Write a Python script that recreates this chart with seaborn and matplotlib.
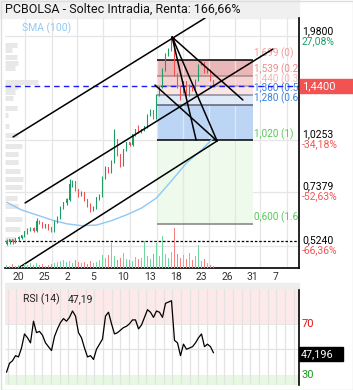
import matplotlib
matplotlib.use("Agg")
import matplotlib.pyplot as plt
from matplotlib.patches import Rectangle
import numpy as np
import seaborn as sns

# velas (indice de sesion intradia)
open_ = [0.530, 0.535, 0.542, 0.535, 0.545, 0.550, 0.555, 0.570, 0.579, 0.582,
         0.575, 0.610, 0.604, 0.590, 0.597, 0.586, 0.575, 0.610, 0.625, 0.665,
         0.685, 0.700, 0.770, 0.785, 0.746, 0.722, 0.731, 0.700, 0.678, 0.657,
         0.665, 0.709, 0.718, 0.805, 0.857, 0.835, 0.890, 1.023, 0.930, 0.873,
         0.960, 1.004, 0.991, 1.056, 1.090, 1.076, 1.090, 1.111, 1.198, 1.237,
         1.176, 1.360, 1.427, 1.594, 1.753, 1.809, 1.950, 1.544, 1.427, 1.387,
         1.478, 1.360, 1.449, 1.404, 1.496, 1.645, 1.675, 1.575, 1.594, 1.496]
high = [0.545, 0.548, 0.545, 0.550, 0.556, 0.562, 0.575, 0.585, 0.590, 0.588,
        0.625, 0.615, 0.606, 0.602, 0.600, 0.590, 0.615, 0.632, 0.672, 0.692,
        0.710, 0.800, 0.795, 0.790, 0.750, 0.740, 0.735, 0.705, 0.685, 0.672,
        0.715, 0.725, 0.815, 0.870, 0.860, 0.900, 1.095, 1.030, 0.935, 0.965,
        1.010, 1.010, 1.060, 1.100, 1.125, 1.095, 1.120, 1.210, 1.245, 1.240,
        1.370, 1.440, 1.610, 1.770, 1.830, 1.965, 1.940, 1.560, 1.440, 1.490,
        1.485, 1.460, 1.455, 1.510, 1.660, 1.700, 1.680, 1.610, 1.600, 1.500]
low = [0.525, 0.530, 0.530, 0.532, 0.540, 0.548, 0.552, 0.566, 0.574, 0.570,
       0.572, 0.600, 0.585, 0.585, 0.580, 0.570, 0.572, 0.606, 0.620, 0.660,
       0.680, 0.695, 0.760, 0.740, 0.715, 0.718, 0.695, 0.670, 0.650, 0.652,
       0.660, 0.700, 0.712, 0.800, 0.830, 0.830, 0.885, 0.925, 0.865, 0.870,
       0.955, 0.985, 0.985, 1.050, 1.070, 1.070, 1.085, 1.105, 1.190, 1.170,
       1.170, 1.350, 1.420, 1.585, 1.745, 1.800, 1.530, 1.420, 1.320, 1.380,
       1.350, 1.355, 1.395, 1.400, 1.490, 1.640, 1.565, 1.565, 1.490, 1.430]
close = [0.535, 0.542, 0.535, 0.545, 0.550, 0.555, 0.570, 0.579, 0.582, 0.575,
         0.610, 0.604, 0.590, 0.597, 0.586, 0.575, 0.610, 0.625, 0.665, 0.685,
         0.700, 0.770, 0.785, 0.746, 0.722, 0.731, 0.700, 0.678, 0.657, 0.665,
         0.709, 0.718, 0.805, 0.857, 0.835, 0.890, 1.023, 0.930, 0.873, 0.960,
         1.004, 0.991, 1.056, 1.090, 1.076, 1.090, 1.111, 1.198, 1.237, 1.176,
         1.360, 1.427, 1.594, 1.753, 1.809, 1.950, 1.544, 1.427, 1.387, 1.478,
         1.360, 1.449, 1.404, 1.496, 1.645, 1.675, 1.575, 1.594, 1.496, 1.440]
vol_k = [3, 2, 4, 2, 3, 2, 4, 3, 5, 3, 5, 3, 4, 2, 3, 4, 5, 6, 7, 8,
         6, 7, 5, 8, 6, 5, 6, 4, 7, 5, 6, 8, 13, 10, 13, 25, 12, 8, 10, 15,
         9, 8, 7, 11, 9, 10, 27, 12, 9, 14, 25, 12, 32, 14, 10, 16, 40, 14, 10, 13,
         9, 15, 8, 12, 23, 7, 9, 5, 3, 2]
rsi = [32, 39, 41, 45, 44, 51, 62, 59, 55, 72, 63, 64, 61, 55, 52, 49, 60, 66, 71, 74,
       72, 75, 80, 76, 63, 59, 51, 44, 45, 42, 50, 54, 58, 76, 79, 70, 62, 63, 65, 67,
       68, 70, 73, 73, 66, 69, 75, 81, 79, 75, 80, 79, 75, 86, 87, 88, 57, 55, 45, 54,
       50, 51, 52, 55, 59, 62, 52, 54, 52, 47.2]
rsi_last = '47,196'
sma_idx = [0, 5, 10, 15, 20, 25, 30, 35, 40, 45, 50, 55, 60, 65, 69]
sma_val = [0.690, 0.657, 0.637, 0.617, 0.602, 0.595, 0.597, 0.614, 0.637, 0.665,
           0.709, 0.790, 0.885, 0.960, 1.037]

# perfil de volumen a la izquierda
vp_price = [1.867, 1.809, 1.735, 1.67, 1.61, 1.477, 1.431, 1.387, 1.334, 1.253, 1.198, 1.118,
            1.056, 0.985, 0.937, 0.890, 0.843, 0.80, 0.760, 0.709, 0.672, 0.619, 0.581, 0.548]
vp_vol = [12, 7, 12, 13, 10, 33, 13, 10, 8, 12, 3, 4, 13, 17, 13, 13, 15, 18, 17, 12, 13, 17, 15, 10]

# fibonacci
fib_lvl = [1.699, 1.539, 1.440, 1.360, 1.280, 1.020, 0.600]
fib_txt = ['1,699 (0)', '1,539 (0.236)', '1,440 (0.382)', '1,360 (0.5)', '1,280 (0.618)',
           '1,020 (1)', '0,600 (1.618)']
fib_x = [50.2, 82.2]

# lineas de tendencia: (x0, p0, x1, p1)
trend = [(2.2, 1.043, 66.2, 2.215),
         (6.2, 0.687, 88.8, 1.820),
         (4.5, 0.458, 70.2, 1.017),
         (55.2, 1.964, 70.2, 1.017),
         (55.2, 1.964, 78.8, 1.318),
         (55.2, 1.964, 63.2, 1.023),
         (49.5, 1.449, 70.2, 1.017)]

grid_lvl = [1.98, 1.0253, 0.7379, 0.524]
grid_pct = ['27,08%', '-34,18%', '-52,63%', '-66,36%']
last_price = 1.44
buy_price = 0.54

date_lbl = ['20', '25', '2', '5', '10', '13', '18', '23', '26', '31', '7']
date_pos = [3.8, 12.5, 20.2, 28.8, 38.8, 47.8, 56.5, 64.8, 73.5, 81.8, 89.8]
vgrid_pos = [6.2, 15.2, 23.5, 32.2, 41.2, 50.2, 58.8, 67.5, 76.2, 84.5, 93.5]

sns.set_theme(style='white')
plt.rcParams['font.family'] = ['Roboto', 'DejaVu Sans']

W, H = 353, 390
fig = plt.figure(figsize=(W / 100, H / 100), dpi=100)


def frame(x0, y0, x1, y1):
    return [x0 / W, 1 - y1 / H, (x1 - x0) / W, (y1 - y0) / H]


# fondos
fig.patches.append(Rectangle((0, 1 - 18 / H), 299 / W, 18 / H, transform=fig.transFigure,
                             color='#f0f0f0', zorder=0))
fig.patches.append(Rectangle((5 / W, 1 - 288 / H), 294 / W, 5 / H, transform=fig.transFigure,
                             color='#eeeeee', zorder=0))
fig.patches.append(Rectangle((0.5 / W, 0.5 / H), 352 / W, 389 / H, transform=fig.transFigure,
                             fill=False, edgecolor='#dddddd', lw=1, zorder=0))

ax_vp = fig.add_axes(frame(5, 18, 299, 268))
ax = fig.add_axes(frame(5, 18, 299, 268), sharey=ax_vp)
ax_r = fig.add_axes(frame(5, 288, 299, 385))

ax_vp.set_zorder(1)
ax.set_zorder(2)
ax.patch.set_visible(False)

ax.set_yscale('log')
ax.set_ylim(0.455, 2.215)
ax.set_xlim(-0.5, 97.5)

# perfil de volumen
ax_vp.hlines(vp_price, 0, vp_vol, color='#e8e8e8', lw=3.6)
ax_vp.set_xlim(0, 294)
ax_vp.axis('off')

# rejilla
for g in grid_lvl:
    ax.axhline(g, color='#e6e6e6', lw=0.9, zorder=0)
ax.set_xticks(vgrid_pos, minor=True)
ax.set_xticks(date_pos)
ax.set_xticklabels(date_lbl, fontsize=7.5, color='#333333')
ax.tick_params(axis='x', which='both', length=0, pad=3)
ax.grid(True, axis='x', which='minor', color='#e6e6e6', lw=0.9)
ax.grid(False, axis='x', which='major')
ax.set_yticks([])
ax.yaxis.set_minor_locator(matplotlib.ticker.NullLocator())

# zonas fibonacci
fib_fill = ['#e9b7b7', '#f6d3d3', '#fbe6e6', '#dfeaf8', '#bcd5f5', '#eefaeb']
for k, c in enumerate(fib_fill):
    ax.fill_between(fib_x, fib_lvl[k + 1], fib_lvl[k], color=c, lw=0, zorder=0.5)
fib_line = ['black', '#a88a8a', '#b0a0a0', '#8a8a9a', '#606070', 'black', '#808080']
fib_col = ['#f29a9a', '#f08a8a', '#f4b4b4', '#3a7fe0', '#3a7fe0', '#55c855', '#55c855']
for lvl, lc, tc, t in zip(fib_lvl, fib_line, fib_col, fib_txt):
    ax.hlines(lvl, fib_x[0], fib_x[1], color=lc, lw=1.1, zorder=1)
    ax.text(fib_x[1] + 0.4, lvl * 1.006, t, color=tc, fontsize=7.2, va='bottom', ha='left',
            clip_on=True, zorder=1)

# lineas horizontales
ax.axhline(last_price, color='#1a1aff', lw=1, ls=(0, (4, 3)), zorder=1.5)
ax.axhline(buy_price, color='black', lw=0.9, ls=(0, (2, 1.5)), zorder=1.5)

# sma
sns.lineplot(x=sma_idx, y=sma_val, ax=ax, color='#8ec8f5', lw=1, zorder=2)

# velas
idx = np.arange(len(close))
o = np.array(open_)
c = np.array(close)
up = c >= o
col = np.where(up, '#1f9d68', '#f05050')
ax.vlines(idx, low, high, colors=col, lw=0.8, zorder=3)
ax.bar(idx, np.abs(c - o) + 0.004, bottom=np.minimum(o, c), width=0.65, color=col,
       linewidth=0, edgecolor='none', zorder=3)

# tendencias
for x0, p0, x1, p1 in trend:
    ax.plot([x0, x1], [p0, p1], color='black', lw=1.1, zorder=4)

# volumen
ax_v = ax.twinx()
ax_v.set_zorder(3)
ax_v.patch.set_visible(False)
ax_v.bar(idx, vol_k, width=0.45, color=np.where(up, '#72d8a2', '#f48080'),
         linewidth=0, edgecolor='none', zorder=1)
ax_v.set_ylim(0, 250)
ax_v.axis('off')

for s in ['left', 'top']:
    ax.spines[s].set_visible(False)
ax.spines['right'].set_color('black')
ax.spines['bottom'].set_color('black')
ax.spines['right'].set_linewidth(1.2)
ax.spines['bottom'].set_linewidth(1.2)

# etiquetas eje derecho
ytr = ax.get_yaxis_transform()
for g, p in zip(grid_lvl, grid_pct):
    ax.text(1.01, g, f'{g:.4f}'.replace('.', ','), transform=ytr, va='bottom', ha='left',
            fontsize=7.5, color='black', clip_on=False)
    ax.text(1.01, g, p, transform=ytr, va='top', ha='left', fontsize=7.5,
            color='#1e9e6a' if not p.startswith('-') else '#f25555', clip_on=False)

fig.patches.append(Rectangle((300 / W, 1 - 93 / H), 53 / W, 14 / H, transform=fig.transFigure,
                             color='#f25252', zorder=5))
fig.text(302 / W, 1 - 86.5 / H, f'{last_price:.4f}'.replace('.', ','), color='white',
         fontsize=8, va='center', ha='left', zorder=6)

fig.text(5 / W, 1 - 9.5 / H, 'PCBOLSA - Soltec Intradia, Renta: 166,66%', fontsize=9,
         color='#111111', va='center', ha='left')
fig.text(22 / W, 1 - 28 / H, 'SMA (100)', fontsize=7.5, color='#90caf9', va='center', ha='left')

# RSI
ax_r.axhspan(70, 100, color='#fde9e9', lw=0, zorder=0)
ax_r.axhspan(0, 30, color='#e6f8e2', lw=0, zorder=0)
ax_r.axhline(50, color='#e3e3e3', lw=0.9, zorder=0.5)
ax_r.axhline(70, color='#e3e3e3', lw=0.6, zorder=0.5)
for gx in np.arange(0.4, 97.5, 2.89):
    ax_r.axvline(gx, color='#e3e3e3', lw=0.9, zorder=0.5)
sns.lineplot(x=idx, y=rsi, ax=ax_r, color='black', lw=0.9, zorder=2)
ax_r.set_xlim(-0.5, 97.5)
ax_r.set_ylim(22, 98)
ax_r.set_xticks([])
ax_r.set_yticks([])
ax_r.set_xlabel('')
for s in ['left', 'top', 'bottom']:
    ax_r.spines[s].set_visible(False)
ax_r.spines['right'].set_color('black')
ax_r.spines['right'].set_linewidth(1.2)

rtr = ax_r.get_yaxis_transform()
ax_r.text(1.01, 70, '70', transform=rtr, color='#e01010', fontsize=8, va='center', clip_on=False)
ax_r.text(1.01, 30, '30', transform=rtr, color='#1a9a1a', fontsize=8, va='center', clip_on=False)
fig.patches.append(Rectangle((299 / W, 1 - 361 / H), 44 / W, 14 / H, transform=fig.transFigure,
                             color='black', zorder=5))
fig.text(301 / W, 1 - 354 / H, rsi_last, color='white', fontsize=7.8, va='center', ha='left',
         zorder=6)
ax_r.text(0.06, 0.88, 'RSI (14)', transform=ax_r.transAxes, fontsize=7.5, color='#222222',
          va='center')
ax_r.text(0.215, 0.88, '47,19', transform=ax_r.transAxes, fontsize=7.5, color='#222222',
          va='center')

fig.savefig('out.png', dpi=100)
